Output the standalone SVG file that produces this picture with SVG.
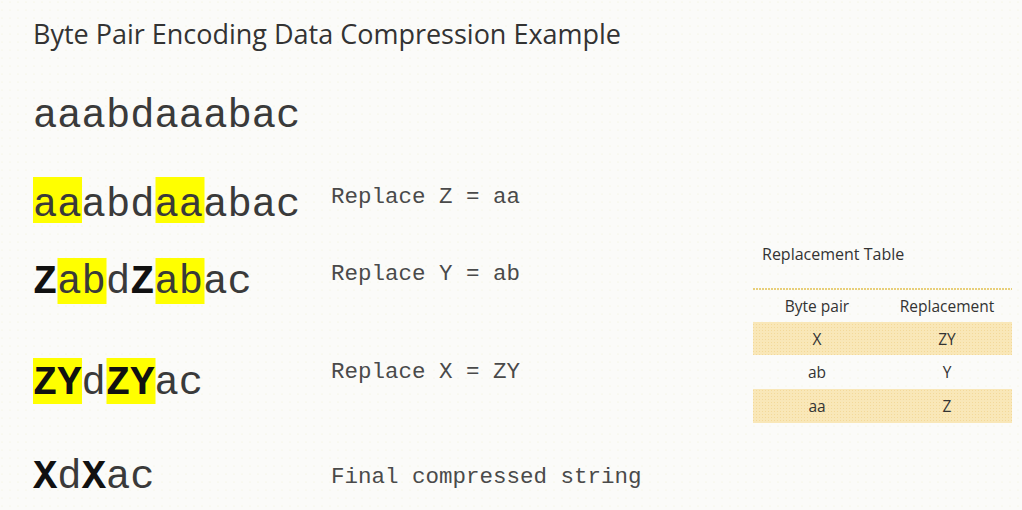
<svg xmlns="http://www.w3.org/2000/svg" width="1022" height="510" viewBox="0 0 1022 510">
<defs>
<pattern id="dots" width="8" height="8" patternUnits="userSpaceOnUse">
<rect width="8" height="8" fill="#fbfbf9"/>
<circle cx="2" cy="2" r="0.6" fill="#f1f1d8"/>
</pattern>
<pattern id="band" width="3" height="3" patternUnits="userSpaceOnUse">
<rect width="3" height="3" fill="#f9e7b8"/>
<rect width="1" height="1" fill="#f3d99a"/>
</pattern>
</defs>
<style>
.title{font-family:"Open Sans","Liberation Sans",sans-serif;font-size:28px;fill:#333}
.mono{font-family:"Liberation Mono","Courier New",monospace;font-size:40.5px;fill:#3a3a3a}
.b{font-weight:bold;fill:#111}
.lbl{font-family:"Liberation Mono","Courier New",monospace;font-size:22.5px;fill:#4a4a4a}
.hl{fill:#ffff00}
.tb{font-family:"Open Sans","Liberation Sans",sans-serif;font-size:16px;fill:#333}
.tc{font-family:"Open Sans","Liberation Sans",sans-serif;font-size:15.5px;fill:#333;text-anchor:middle}
.band{fill:url(#band)}
</style>
<rect width="1022" height="510" fill="url(#dots)"/>
<g id="title">
<text class="title" x="33" y="44" textLength="588" lengthAdjust="spacingAndGlyphs">Byte Pair Encoding Data Compression Example</text>
</g>
<g id="row1">
<text class="mono" x="33" y="127">aaabdaaabac</text>
</g>
<g id="row2">
<rect class="hl" x="33" y="177" width="49" height="46"/>
<rect class="hl" x="155.5" y="177" width="49" height="46"/>
<text class="mono" x="33" y="216">aaabdaaabac</text>
<text class="lbl" x="331" y="203">Replace Z = aa</text>
</g>
<g id="row3">
<rect class="hl" x="57.5" y="258" width="49" height="46"/>
<rect class="hl" x="155.5" y="258" width="49" height="46"/>
<text class="mono" x="33" y="293"><tspan class="b">Z</tspan>abd<tspan class="b">Z</tspan>abac</text>
<text class="lbl" x="331" y="280">Replace Y = ab</text>
</g>
<g id="row4">
<rect class="hl" x="33" y="358" width="49" height="46"/>
<rect class="hl" x="106.5" y="358" width="49" height="46"/>
<text class="mono" x="33" y="394"><tspan class="b">ZY</tspan>d<tspan class="b">ZY</tspan>ac</text>
<text class="lbl" x="331" y="378">Replace X = ZY</text>
</g>
<g id="row5">
<text class="mono" x="33" y="488"><tspan class="b">X</tspan>d<tspan class="b">X</tspan>ac</text>
<text class="lbl" x="331" y="483">Final compressed string</text>
</g>
<g id="table">
<text class="tb" x="762" y="260">Replacement Table</text>
<line x1="753" y1="289" x2="1012" y2="289" stroke="#e8cf7a" stroke-width="2" stroke-dasharray="2 1"/>
<text class="tc" x="817" y="312">Byte pair</text>
<text class="tc" x="947" y="312">Replacement</text>
<rect class="band" x="753" y="322" width="259" height="33"/>
<rect class="band" x="753" y="389" width="259" height="34"/>
<text class="tc" x="817" y="345">X</text>
<text class="tc" x="947" y="345">ZY</text>
<text class="tc" x="817" y="378">ab</text>
<text class="tc" x="947" y="378">Y</text>
<text class="tc" x="817" y="412">aa</text>
<text class="tc" x="947" y="412">Z</text>
</g>
</svg>
